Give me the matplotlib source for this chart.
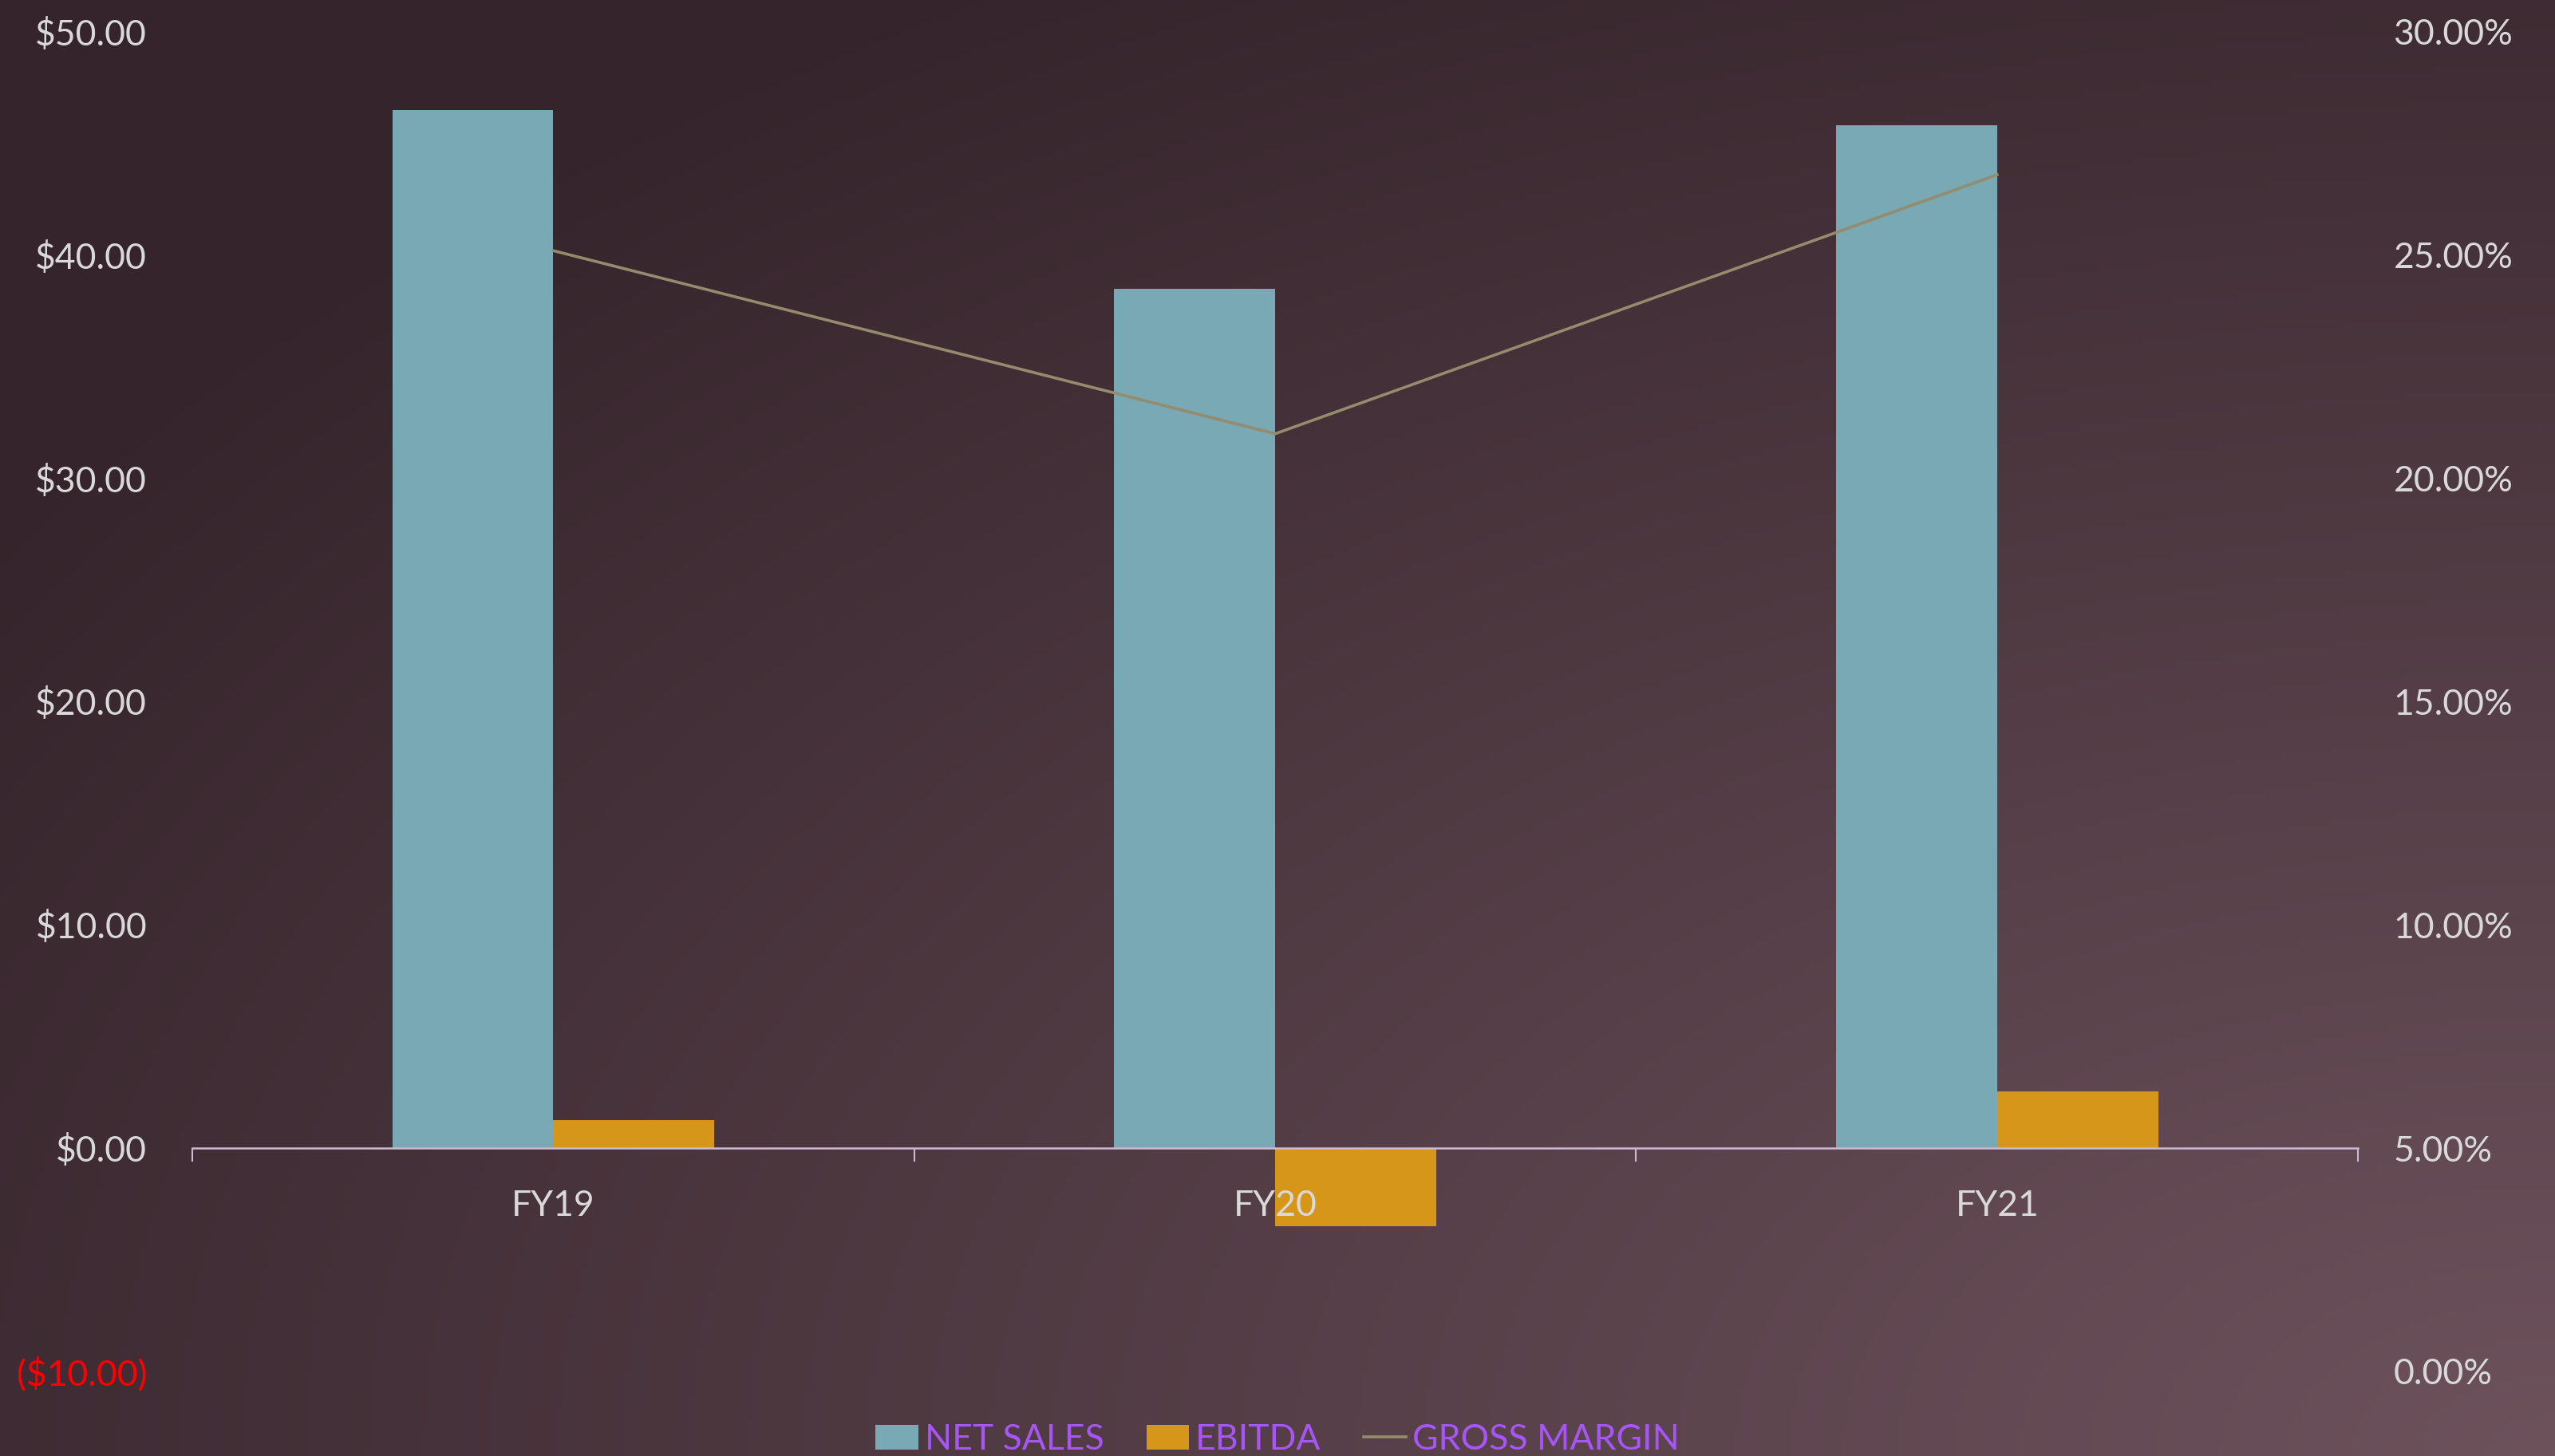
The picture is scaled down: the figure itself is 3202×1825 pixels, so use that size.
import numpy as np
import matplotlib
matplotlib.use("Agg")
import matplotlib.pyplot as plt
from matplotlib.colors import to_rgb

plt.rcParams['font.family'] = ['Lato', 'DejaVu Sans']

# data
years = ['FY19', 'FY20', 'FY21']
net_sales = [46.5, 38.5, 45.8]
ebitda = [1.25, -3.5, 2.55]
gross_margin = [0.251, 0.210, 0.268]

left_ticks = [-10, 0, 10, 20, 30, 40, 50]
right_ticks = [0.0, 0.05, 0.10, 0.15, 0.20, 0.25, 0.30]

txt_col = '#d9d9d9'
legend_col = '#a855f7'
fs = 32

fig = plt.figure(figsize=(32.02, 18.25), dpi=100)

# background gradient, lighter toward bottom right
bg = fig.add_axes([0, 0, 1, 1], zorder=-10)
gx, gy = np.meshgrid(np.linspace(0, 1, 400), np.linspace(0, 1, 240))
d = np.sqrt((1 - gx) ** 2 + (1 - gy) ** 2)
t = np.clip(1 - d / 1.2, 0, 1)[..., None]
dark = np.array(to_rgb('#35242b'))
light = np.array(to_rgb('#6d525c'))
bg.imshow(dark + (light - dark) * t, aspect='auto', extent=[0, 1, 1, 0])
bg.axis('off')

ax = fig.add_axes([0.0753, 0.0581, 0.8476, 0.92])
ax.patch.set_alpha(0)
x = np.arange(len(years))
w = 0.223
ax.bar(x - w / 2, net_sales, w, color='#78a9b4', label='NET SALES')
ax.bar(x + w / 2, ebitda, w, color='#d6961a', label='EBITDA')
ax.set_xlim(-0.5, 2.5)
ax.set_ylim(-10, 50)

for s in ['top', 'left', 'right']:
    ax.spines[s].set_visible(False)
ax.spines['bottom'].set_position(('data', 0))
ax.spines['bottom'].set_color('#cdb9d2')
ax.spines['bottom'].set_linewidth(1.8)

ax.set_xticks(x)
ax.set_xticklabels(years)
ax.set_xticks([-0.5, 0.5, 1.5, 2.5], minor=True)
ax.tick_params(axis='x', which='major', length=0, pad=37, labelsize=fs, labelcolor=txt_col)
ax.tick_params(axis='x', which='minor', length=12, width=1.5, color='#cdb9d2')

ax.set_yticks(left_ticks)
ax.set_yticklabels(['($%.2f)' % abs(v) if v < 0 else '$%.2f' % v for v in left_ticks])
ax.tick_params(axis='y', length=0, pad=41, labelsize=fs, labelcolor=txt_col)
for lab, v in zip(ax.get_yticklabels(), left_ticks):
    if v < 0:
        lab.set_color('#ff0000')

ax2 = ax.twinx()
ax2.patch.set_alpha(0)
ax2.plot(x, gross_margin, color='#958b6d', lw=2.6, label='GROSS MARGIN')
ax2.set_ylim(0, 0.30)
ax2.set_yticks(right_ticks)
ax2.set_yticklabels(['%.2f%%' % (v * 100) for v in right_ticks])
ax2.tick_params(axis='y', length=0, pad=32, labelsize=fs, labelcolor=txt_col)
for s in ax2.spines.values():
    s.set_visible(False)

h1, l1 = ax.get_legend_handles_labels()
h2, l2 = ax2.get_legend_handles_labels()
leg = fig.legend(h1 + h2, l1 + l2, loc='lower center', bbox_to_anchor=(0.5, 0.0),
                 ncol=3, frameon=False, fontsize=fs, handlelength=1.2,
                 handletextpad=0.18, columnspacing=1.2, borderpad=0, borderaxespad=0)
for t_ in leg.get_texts():
    t_.set_color(legend_col)

fig.savefig('out.png', dpi=100)
